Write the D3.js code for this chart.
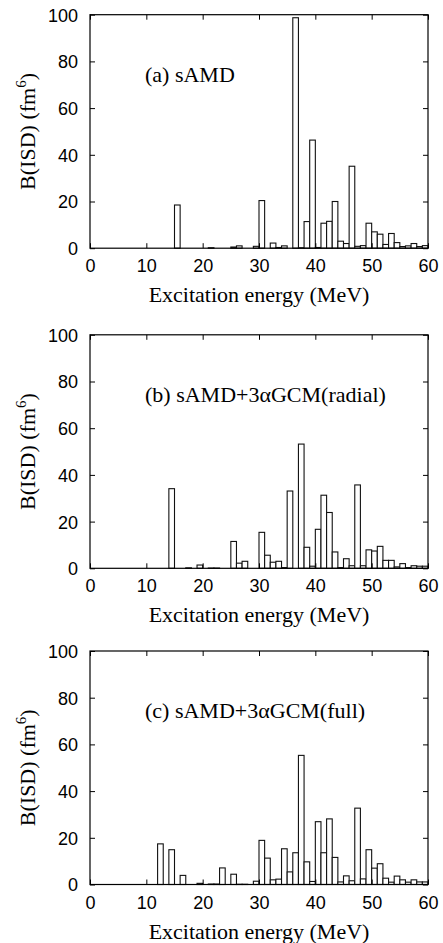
<!DOCTYPE html>
<html>
<head>
<meta charset="utf-8">
<script src="https://cdn.jsdelivr.net/npm/d3@7"></script>
<style>
    html, body { margin: 0; padding: 0; background: #fff; }
    svg { display: block; }
    .tick-label { font-family: "Liberation Sans", Arial, sans-serif; font-size: 18px; fill: #000; }
    .serif { font-family: "Liberation Serif", "Times New Roman", serif; font-size: 22px; fill: #000; }
</style>
</head>
<body>
<div id="chart"></div>
<script>
(function () {
    'use strict';

    // lower edge of each 1 MeV bin
    var energies = [
        0, 1, 2, 3, 4, 5, 6, 7, 8, 9,
        10, 11, 12, 13, 14, 15, 16, 17, 18, 19,
        20, 21, 22, 23, 24, 25, 26, 27, 28, 29,
        30, 31, 32, 33, 34, 35, 36, 37, 38, 39,
        40, 41, 42, 43, 44, 45, 46, 47, 48, 49,
        50, 51, 52, 53, 54, 55, 56, 57, 58, 59
    ];

    var sAMD = [
        0, 0, 0, 0, 0, 0, 0, 0, 0, 0,
        0, 0, 0, 0, 0, 18.5, 0, 0, 0, 0,
        0, 0.2, 0, 0, 0, 0.5, 1.0, 0, 0, 0.8,
        20.4, 0, 2.2, 0.3, 1.0, 0, 98.7, 0.2, 11.4, 46.3,
        0.3, 10.7, 11.5, 20.0, 3.0, 2.0, 35.1, 0.8, 1.1, 10.7,
        7.0, 6.0, 1.6, 6.3, 2.4, 0.7, 1.0, 2.0, 0.7, 1.1
    ];

    var gcmRadial = [
        0, 0, 0, 0, 0, 0, 0, 0, 0, 0,
        0, 0, 0, 0, 34.1, 0, 0, 0.2, 0, 1.4,
        0, 0.1, 0.1, 0, 0, 11.5, 2.2, 3.0, 0, 0,
        15.4, 5.6, 2.6, 3.0, 0.3, 33.1, 0, 53.2, 9.0, 0.9,
        16.7, 31.3, 23.9, 7.0, 0.3, 4.1, 1.1, 35.7, 1.1, 7.9,
        7.4, 9.4, 3.4, 3.4, 0.6, 2.0, 0.3, 1.1, 0.9, 0.9
    ];

    var gcmFull = [
        0, 0, 0, 0, 0, 0, 0, 0, 0, 0,
        0, 0, 17.4, 0, 14.9, 0, 3.9, 0, 0, 0.5,
        0, 0.2, 0.2, 7.1, 0, 4.4, 0.1, 0.1, 0, 1.4,
        18.9, 11.3, 2.0, 2.3, 15.3, 5.4, 13.6, 55.3, 9.7, 1.3,
        26.9, 13.6, 28.1, 11.6, 1.1, 3.7, 1.6, 32.7, 2.4, 14.9,
        7.0, 8.9, 2.7, 1.0, 3.6, 2.0, 1.0, 2.0, 1.1, 1.1
    ];

    var panelTitles = ['(a) sAMD', '(b) sAMD+3\u03b1GCM(radial)', '(c) sAMD+3\u03b1GCM(full)'];
    var xTicks = [0, 10, 20, 30, 40, 50, 60];
    var yTicks = [0, 20, 40, 60, 80, 100];

    var series = [sAMD, gcmRadial, gcmFull];

    var width = 443, height = 943;
    var left = 90, right = 428;
    var panelTops = [14.7, 334.8, 651];
    var panelH = 233.5;
    var tickLen = 5;

    var svg = d3.select('#chart').append('svg')
        .attr('width', width)
        .attr('height', height);

    var x = d3.scaleLinear().domain([0, 60]).range([left, right]);

    _drawPanels();

    function _drawPanels() {
        series.forEach(function (values, i) {
            var top = panelTops[i];
            var bottom = top + panelH;
            var y = d3.scaleLinear().domain([0, 100]).range([bottom, top]);

            var g = svg.append('g');

            var bins = energies.map(function (e, k) {
                return { e0: e, e1: e + 1, v: values[k] };
            }).filter(function (d) { return d.v > 0; });

            g.append('g').selectAll('rect')
                .data(bins)
                .enter().append('rect')
                .attr('x', function (d) { return x(d.e0); })
                .attr('width', function (d) { return x(d.e1) - x(d.e0); })
                .attr('y', function (d) { return y(d.v); })
                .attr('height', function (d) { return y(0) - y(d.v); })
                .attr('fill', '#fff')
                .attr('stroke', '#111')
                .attr('stroke-width', 1.1);

            // axes, ticks pointing inside, mirrored on top/right
            var axBottom = d3.axisBottom(x).tickValues(xTicks).tickSize(-tickLen).tickPadding(8);
            var axTop = d3.axisTop(x).tickValues(xTicks).tickSize(-tickLen).tickFormat('');
            var axLeft = d3.axisLeft(y).tickValues(yTicks).tickSize(-tickLen).tickPadding(12);
            var axRight = d3.axisRight(y).tickValues(yTicks).tickSize(-tickLen).tickFormat('');

            var gb = g.append('g').attr('transform', 'translate(0,' + bottom + ')').call(axBottom);
            g.append('g').attr('transform', 'translate(0,' + top + ')').call(axTop);
            var gl = g.append('g').attr('transform', 'translate(' + left + ',0)').call(axLeft);
            g.append('g').attr('transform', 'translate(' + right + ',0)').call(axRight);

            g.selectAll('.domain').remove();
            g.selectAll('.tick line').attr('stroke', '#000').attr('stroke-width', 1);
            [gb, gl].forEach(function (a) {
                a.selectAll('text')
                    .attr('class', 'tick-label')
                    .attr('font-size', null)
                    .attr('font-family', null)
                    .attr('fill', null);
            });
            gb.selectAll('text').attr('y', 24).attr('dy', null);
            gl.selectAll('text').attr('dy', '0.36em');
            g.selectAll('.tick text').style('font-family', '"Liberation Sans", Arial, sans-serif').style('font-size', '18px');

            g.append('rect')
                .attr('x', left)
                .attr('y', top)
                .attr('width', right - left)
                .attr('height', panelH)
                .attr('fill', 'none')
                .attr('stroke', '#000')
                .attr('stroke-width', 1.2);

            g.append('text')
                .attr('class', 'serif')
                .attr('x', 145)
                .attr('y', top + 67)
                .text(panelTitles[i]);

            g.append('text')
                .attr('class', 'serif')
                .attr('x', (left + right) / 2)
                .attr('y', bottom + 54)
                .attr('text-anchor', 'middle')
                .text('Excitation energy (MeV)');

            var yl = g.append('text')
                .attr('class', 'serif')
                .attr('text-anchor', 'middle')
                .attr('transform', 'translate(35,' + ((top + bottom) / 2) + ') rotate(-90)');
            yl.append('tspan').text('B(ISD) (fm');
            yl.append('tspan').attr('dy', -9).style('font-size', '15px').text('6');
            yl.append('tspan').attr('dy', 9).text(')');
        });
    }
}());
</script>
</body>
</html>
